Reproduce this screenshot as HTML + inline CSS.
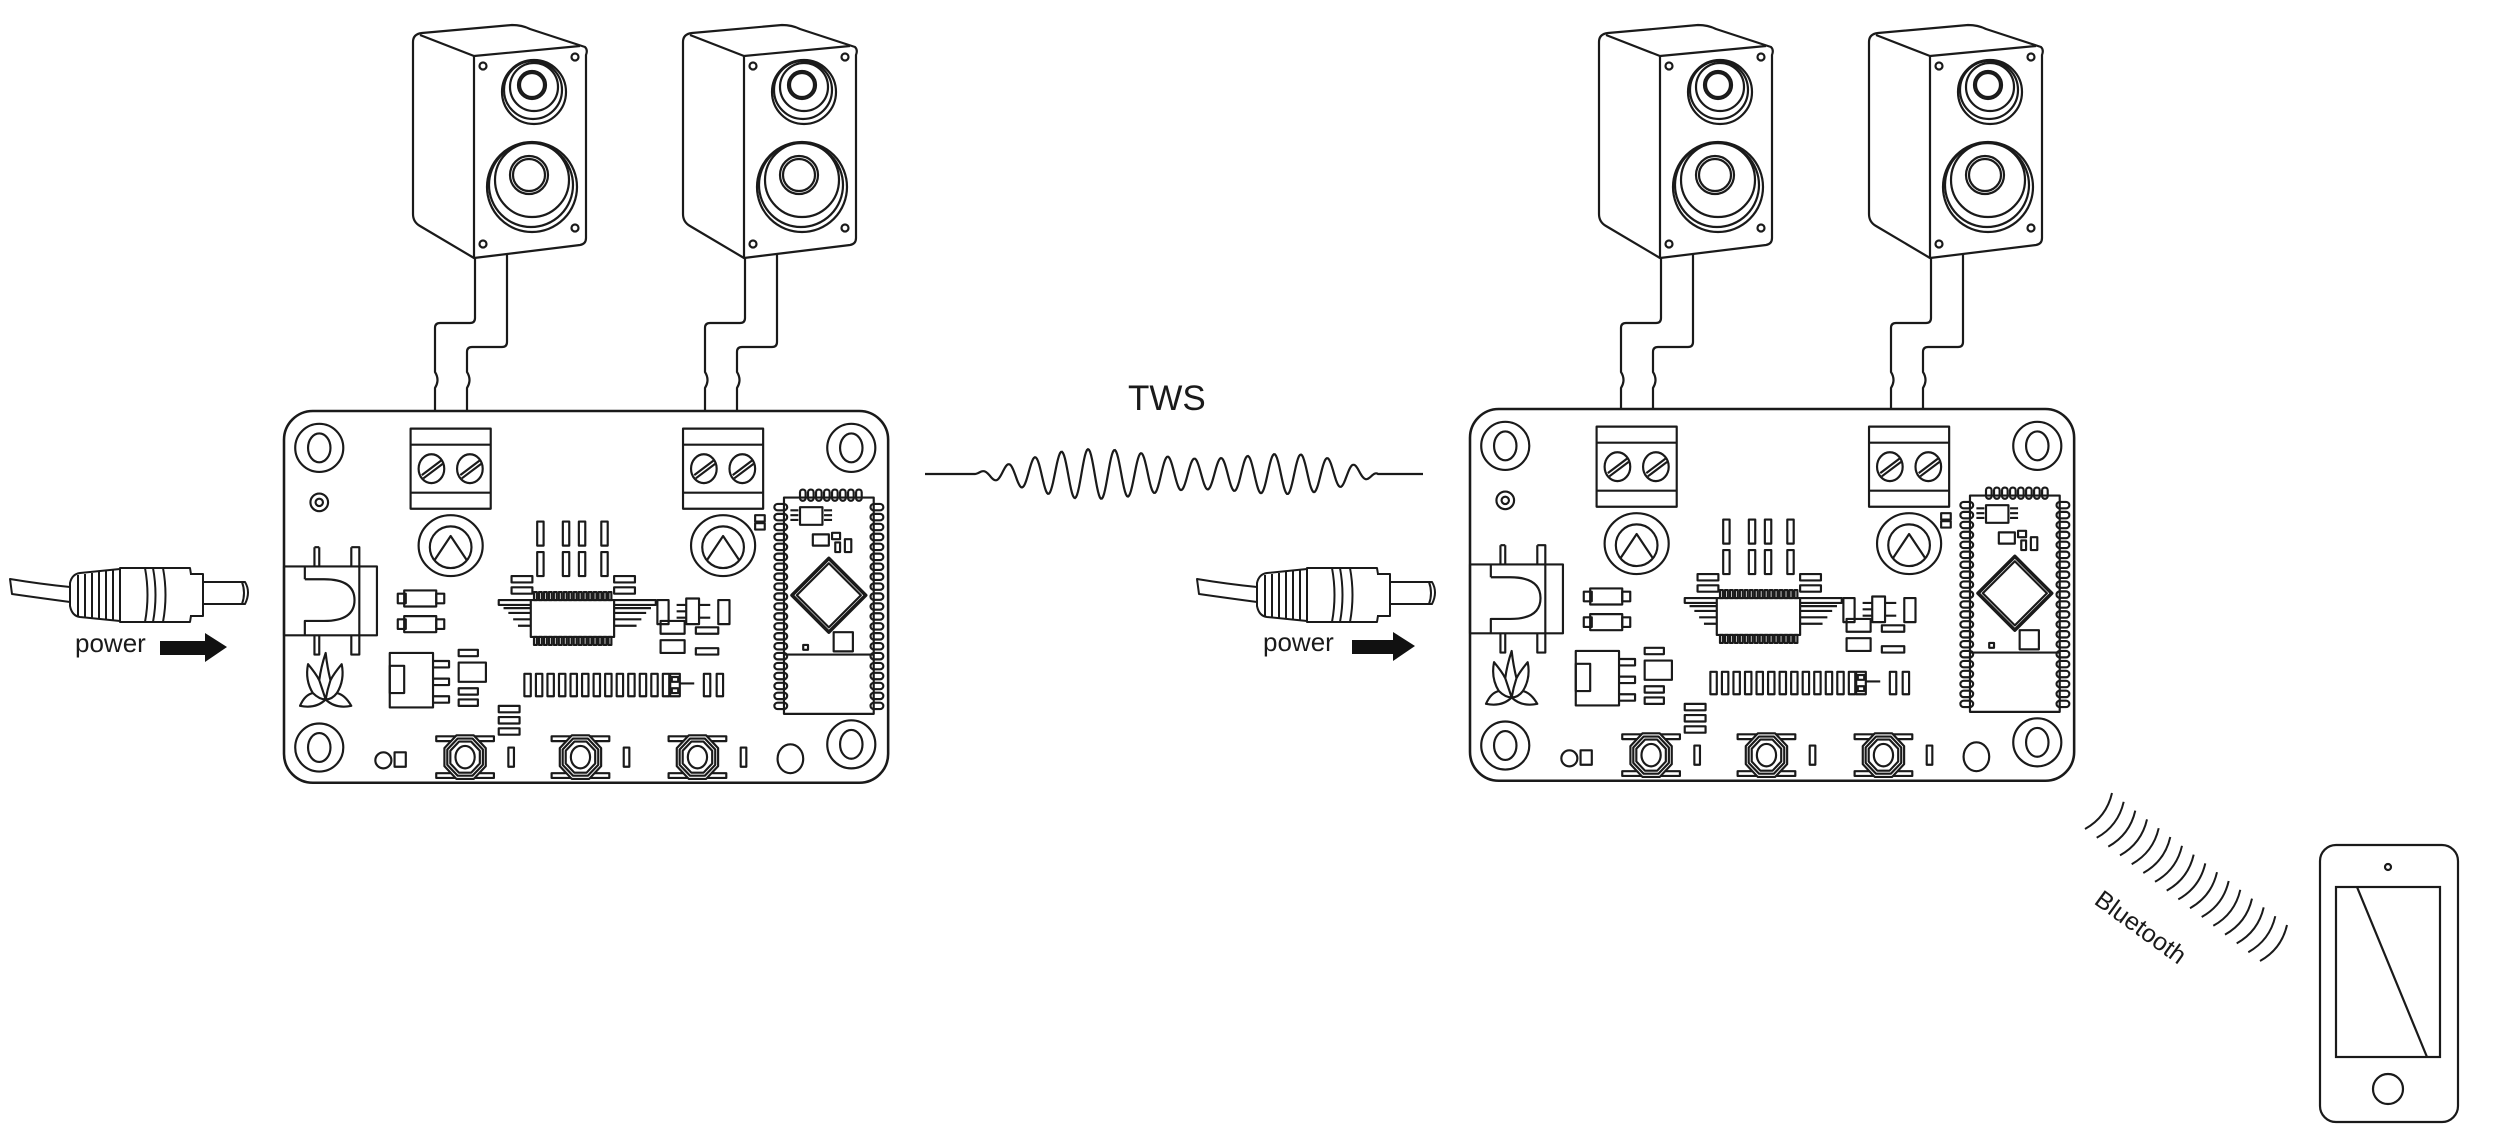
<!DOCTYPE html>
<html><head><meta charset="utf-8"><style>
html,body{margin:0;padding:0;background:#fff;}
svg{display:block;}
text{font-family:"Liberation Sans","DejaVu Sans",sans-serif;fill:#1a1a1a;}
</style></head><body>
<svg id="s" width="2500" height="1134" viewBox="0 0 2500 1134" xmlns="http://www.w3.org/2000/svg">
<defs>
<g id="speaker" fill="none" stroke="#1a1a1a" stroke-width="2.2" stroke-linejoin="round">
  <path d="M420,33 L510,25 Q520,25 528,29 L583,47 Q586,50 584,55 L584,238 Q584,244 578,245 L472,258 L418,226 Q411,222 411,214 L411,42 Q411,34 420,33 Z" fill="#fff"/>
  <path d="M418,35 L472,56 L578,46"/>
  <path d="M472,56 L472,258"/>
  <circle cx="532" cy="92" r="32"/><circle cx="531" cy="90" r="29"/><circle cx="532" cy="87" r="24"/>
  <circle cx="530" cy="85" r="14"/><circle cx="530" cy="85" r="12"/>
  <circle cx="530" cy="187" r="45"/><circle cx="529" cy="185" r="42"/><circle cx="530" cy="180" r="37"/>
  <circle cx="527" cy="175" r="19"/><circle cx="527" cy="175" r="16"/>
  <circle cx="481" cy="66" r="3.5"/><circle cx="573" cy="57" r="3.5"/><circle cx="481" cy="244" r="3.5"/><circle cx="573" cy="228" r="3.5"/>
  <path d="M473,258 V318 Q473,323 468,323 H438 Q433,323 433,328 V372 Q438,380 433,388 V410"/>
  <path d="M505,254 V342 Q505,347 500,347 H470 Q465,347 465,352 V372 Q470,380 465,388 V410"/>
</g>
<g id="plug" fill="#fff" stroke="#1a1a1a" stroke-width="2" stroke-linejoin="round">
  <path d="M10,579 Q40,584 70,587 L70,602 Q40,598 12,594 Z"/>
  <path d="M70,583 Q72,574 80,573 L120,569 L120,621 L80,617 Q72,616 70,606 Z"/>
  <path d="M78,575 V616 M85,574 V617 M92,573 V618 M99,572 V619 M106,571 V620 M113,570 V620"/>
  <path d="M120,568 L190,568 Q195,595 190,622 L120,622 Z"/>
  <path d="M145,568 Q150,595 145,622 M153,568 Q158,595 153,622 M163,568 Q168,595 163,622"/>
  <path d="M190,574 H203 V616 H190"/>
  <path d="M203,582 H245 Q251,592 245,604 H203 Z"/>
  <path d="M242,582 Q246,593 242,604"/>
</g>
<g id="board" fill="none" stroke="#1a1a1a" stroke-width="1.35" stroke-linejoin="round">
  <rect x="0" y="0" width="377" height="232" rx="18" stroke-width="1.6"/>
  <circle cx="22" cy="23" r="15"/><ellipse cx="22" cy="23" rx="7" ry="9"/>
  <circle cx="354" cy="23" r="15"/><ellipse cx="354" cy="23" rx="7" ry="9"/>
  <circle cx="22" cy="210" r="15"/><ellipse cx="22" cy="210" rx="7" ry="9"/>
  <circle cx="354" cy="208" r="15"/><ellipse cx="354" cy="208" rx="7" ry="9"/>
  <circle cx="22" cy="57" r="5.5"/><circle cx="22" cy="57" r="2.3"/>
  <g id="term"><rect x="79" y="11" width="50" height="50"/><path d="M79,21 H129 M79,51 H129"/>
    <ellipse cx="92" cy="36" rx="8" ry="9"/><ellipse cx="116" cy="36" rx="8" ry="9"/>
    <path d="M86,40 L98,31 M87,42 L99,33 M110,40 L122,31 M111,42 L123,33"/></g>
  <use href="#term" x="170"/>
  <g id="pot"><ellipse cx="104" cy="84" rx="20" ry="19"/><ellipse cx="104" cy="85" rx="13" ry="13"/>
    <path d="M94,93 L104,78 L114,93"/></g>
  <use href="#pot" x="170"/>
  <rect x="294" y="65" width="6" height="4"/><rect x="294" y="70" width="6" height="4"/>
  <rect x="0" y="97" width="58" height="43"/><path d="M47,97 V140"/>
  <path d="M13,105 H25 Q44,105 44,118 Q44,131 25,131 H13 V140 M13,105 V97"/>
  <path d="M19,85 V97 M22,85 V97 M19,85 H22 M42,85 H47 V97 M42,85 V97 M19,140 V152 H22 V140 M42,140 V152 H47 V140"/>
  <rect x="75" y="112" width="20" height="10"/><rect x="71" y="114" width="5" height="6"/><rect x="95" y="114" width="5" height="6"/>
  <rect x="75" y="128" width="20" height="10"/><rect x="71" y="130" width="5" height="6"/><rect x="95" y="130" width="5" height="6"/>
  <rect x="158" y="69" width="4" height="15"/><rect x="174" y="69" width="4" height="15"/><rect x="184" y="69" width="4" height="15"/><rect x="198" y="69" width="4" height="15"/>
  <rect x="158" y="88" width="4" height="15"/><rect x="174" y="88" width="4" height="15"/><rect x="184" y="88" width="4" height="15"/><rect x="198" y="88" width="4" height="15"/>
  <rect x="142" y="103" width="13" height="4"/><rect x="142" y="110" width="13" height="4"/>
  <rect x="206" y="103" width="13" height="4"/><rect x="206" y="110" width="13" height="4"/>
  <path d="M134,118 H232 V121 H134 Z M137,123 H229 M140,126 H226 M143,130 H223 M146,134 H220"/>
  <rect x="154" y="118" width="52" height="23" fill="#fff"/>
  <g id="icpins"></g>
  <rect x="233" y="118" width="7" height="15"/><rect x="271" y="118" width="7" height="15"/>
  <rect x="251" y="117" width="8" height="16"/><path d="M245,121 H251 M245,125 H251 M245,129 H251 M259,121 H266 M259,129 H266"/>
  <rect x="235" y="131" width="15" height="8"/><rect x="235" y="143" width="15" height="8"/>
  <rect x="257" y="135" width="14" height="4"/><rect x="257" y="148" width="14" height="4"/>
  <rect x="66" y="151" width="27" height="34"/><rect x="66" y="159" width="9" height="17"/>
  <path d="M93,156 H103 V160 H93 M93,167 H103 V171 H93 M93,178 H103 V182 H93"/>
  <rect x="109" y="149" width="12" height="4"/><rect x="109" y="157" width="17" height="12"/><rect x="109" y="173" width="12" height="4"/><rect x="109" y="180" width="12" height="4"/>
  <rect x="134" y="184" width="13" height="4"/><rect x="134" y="191" width="13" height="4"/><rect x="134" y="198" width="13" height="4"/>
  <g id="row"></g>
  <path d="M241,164 H247 V178 H241 Z M247,170 H256"/><rect x="242" y="166" width="4" height="3"/><rect x="242" y="173" width="4" height="3"/>
  <rect x="262" y="164" width="4" height="14"/><rect x="270" y="164" width="4" height="14"/>
  <rect x="312" y="54" width="56" height="135"/><path d="M312,152 H368"/>
  <g id="pads"></g>
  <rect x="322" y="60" width="14" height="11"/><path d="M316,62 H321 M316,65 H321 M316,68 H321 M337,62 H342 M337,65 H342 M337,68 H342"/>
  <rect x="330" y="77" width="10" height="7"/><rect x="342" y="76" width="5" height="4"/><rect x="344" y="82" width="3" height="6"/><rect x="350" y="80" width="4" height="8"/>
  <path d="M340,92 L363,115 L340,138 L317,115 Z" stroke-width="2.2"/>
  <path d="M340,95 L360,115 L340,135 L320,115 Z"/>
  <rect x="324" y="146" width="3" height="3"/><rect x="343" y="138" width="12" height="12"/>
</g>
</defs>

<use href="#speaker" x="2"/>
<use href="#speaker" x="272"/>
<use href="#board" transform="translate(284,411) scale(1.6025)"/>
<use href="#plug"/>
<text x="75" y="652" font-size="26">power</text>
<path d="M160,641 H205 V633 L227,647 L205,662 V655 H160 Z" fill="#111"/>

<use href="#speaker" x="1188"/>
<use href="#speaker" x="1458"/>
<use href="#board" transform="translate(1470,409) scale(1.6025)"/>
<use href="#plug" x="1187"/>
<text x="1263" y="651" font-size="26">power</text>
<path d="M1352,640 H1393 V632 L1415,646 L1393,661 V654 H1352 Z" fill="#111"/>

<text x="1128" y="410" font-size="35">TWS</text>
<path id="wave" fill="none" stroke="#1a1a1a" stroke-width="2.2"/>

<g id="arcs" fill="none" stroke="#1a1a1a" stroke-width="2"></g>
<text x="0" y="0" font-size="25" transform="translate(2093,903) rotate(36)">Bluetooth</text>

<g fill="none" stroke="#1a1a1a" stroke-width="2.2">
  <rect x="2320" y="845" width="138" height="277" rx="16"/>
  <rect x="2336" y="887" width="104" height="170"/>
  <path d="M2357,887 L2427,1057"/>
  <circle cx="2388" cy="1089" r="15"/>
  <circle cx="2388" cy="867" r="3"/>
</g>
</svg>
<script>
(function(){
var NS="http://www.w3.org/2000/svg";
function el(p,tag,a){var e=document.createElementNS(NS,tag);for(var k in a)e.setAttribute(k,a[k]);p.appendChild(e);return e;}
var g=document.getElementById('icpins');
for(var i=0;i<16;i++){var x=156+i*3.1;el(g,'rect',{x:x,y:113,width:1.8,height:5});el(g,'rect',{x:x,y:141,width:1.8,height:5});}
var r=document.getElementById('row');
for(var i=0;i<13;i++){el(r,'rect',{x:150+i*7.2,y:164,width:4,height:14});}
var p=document.getElementById('pads');
for(var i=0;i<8;i++){el(p,'rect',{x:322+i*5,y:49,width:3.5,height:7,rx:1.7});}
for(var i=0;i<21;i++){var y=58+i*6.2;el(p,'rect',{x:306,y:y,width:8,height:4,rx:2});el(p,'rect',{x:366,y:y,width:8,height:4,rx:2});}
var b=document.getElementById('board');
[113,185,258].forEach(function(cx){var cy=216;
 el(b,'path',{d:'M'+(cx-18)+','+(cy-13)+' H'+(cx+18)+' V'+(cy-10)+' H'+(cx-18)+' Z M'+(cx-18)+','+(cy+10)+' H'+(cx+18)+' V'+(cy+13)+' H'+(cx-18)+' Z'});
 [14,12,10].forEach(function(R){var pts=[];for(var k=0;k<8;k++){var a=Math.PI/8+k*Math.PI/4;pts.push((cx+R*Math.cos(a)).toFixed(1)+','+(cy+R*1.05*Math.sin(a)).toFixed(1));}
  el(b,'polygon',{points:pts.join(' '),fill:R==14?'#fff':'none'});});
 el(b,'ellipse',{cx:cx,cy:cy,rx:6,ry:7});
 el(b,'rect',{x:cx+27,y:cy-6,width:3.5,height:12});
});
el(b,'ellipse',{cx:62,cy:218,rx:5,ry:5});el(b,'rect',{x:69,y:213,width:7,height:9});
el(b,'ellipse',{cx:316,cy:217,rx:8,ry:9});
el(b,'path',{d:'M10,184 Q20,186 26,180 Q32,186 42,184 Q38,177 33,176 Q38,168 36,158 Q31,164 29,168 Q27,160 26,151 Q23,160 22,168 Q20,164 15,158 Q13,168 18,176 Q13,177 10,184 Z M18,176 Q22,180 26,180 Q30,180 33,176 M22,168 Q24,174 26,180 M29,168 Q27,174 26,180'});
var d='M925,474 H975';
for(var x=975;x<=1378;x+=1){var t=(x-975)/403;var env=Math.pow(Math.sin(Math.PI*Math.min(1,t)),0.7)*(0.75+0.25*Math.sin(t*Math.PI*3-0.5));var A=31*env;var y=474-A*Math.sin(2*Math.PI*(x-975)/26.6);d+=' L'+x+','+y.toFixed(1);}
d+=' L1378,474 H1423';
document.getElementById('wave').setAttribute('d',d);
var ag=document.getElementById('arcs');
for(var i=0;i<16;i++){var t=i/15;var tx=2112+(2287-2112)*t,ty=793+(925-793)*t;var bx=tx-27,by=ty+36;
 var mx=(tx+bx)/2+8,my=(ty+by)/2+6;
 el(ag,'path',{d:'M'+tx.toFixed(1)+','+ty.toFixed(1)+' Q'+mx.toFixed(1)+','+my.toFixed(1)+' '+bx.toFixed(1)+','+by.toFixed(1)});}
})();
</script>
</body></html>
